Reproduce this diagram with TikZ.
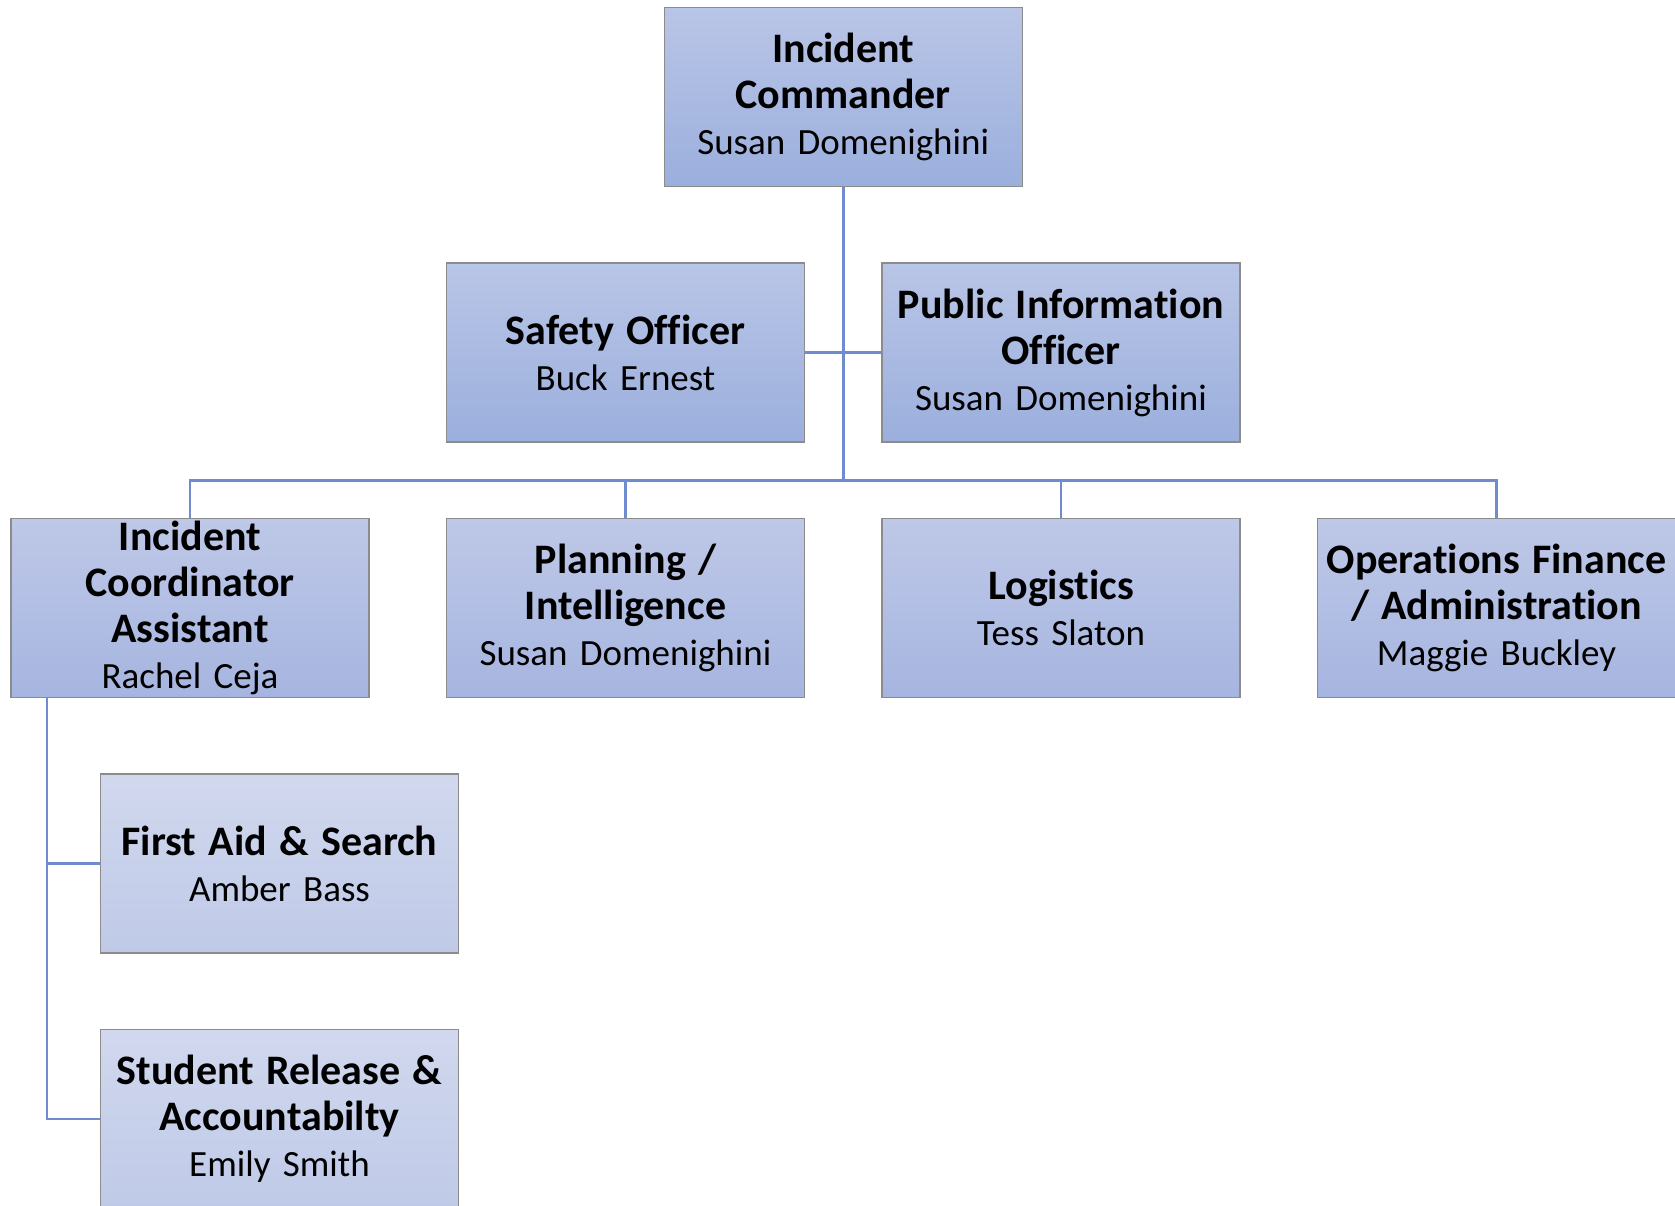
\documentclass[tikz,border=0pt]{standalone}
\usepackage{fontspec}
\setmainfont{Carlito}[Ligatures=CommonOff]

\definecolor{linkblue}{RGB}{112,139,208}
\definecolor{boxedge}{RGB}{140,140,140}
\newcommand{\entry}[2]{{\fontsize{42}{46}\selectfont\bfseries #1}\\#2}

\begin{document}
\begin{tikzpicture}[x=1pt,y=-1pt,
    box/.style={draw=boxedge,line width=1.5pt,rectangle,
      minimum width=358pt,minimum height=179pt,text width=350pt,
      align=center,inner sep=0pt,font=\fontsize{37}{46}\selectfont},
    lead/.style={box,top color={rgb,255:red,185;green,197;blue,230},bottom color={rgb,255:red,155;green,175;blue,221}},
    staff/.style={box,top color={rgb,255:red,190;green,200;blue,231},bottom color={rgb,255:red,166;green,181;blue,224}},
    crew/.style={box,top color={rgb,255:red,209;green,216;blue,238},bottom color={rgb,255:red,191;green,202;blue,232}},
    link/.style={draw=linkblue,line width=2.5pt}]
      \pgfmathsetmacro{\h}{255.5}
      \pgfmathsetmacro{\w}{435.5}
      \pgfmathsetmacro{\x}{190}
      \pgfmathsetmacro{\y}{97}

      \useasboundingbox (0,0) rectangle (1675,1206);

      \coordinate (hub) at (\x + \w * 1.5,\y + \h * 1.5);

      \draw[link] (\x + \w * 1.5,\y) -- (hub);

      \node[lead] (ic) at (\x + \w * 1.5,\y) {\entry{Incident\\Commander}{Susan Domenighini}};
      \node[lead] (safety) at (\x + \w,\y + \h) {\entry{Safety Officer}{Buck Ernest}};
      \node[lead] (pio) at (\x + \w * 2,\y + \h) {\entry{Public Information\\Officer}{Susan Domenighini}};

      \node[staff] (ica) at (\x,\y + \h * 2) {\entry{Incident\\Coordinator\\Assistant}{Rachel Ceja}};
      \node[staff] (plan) at (\x + \w,\y + \h * 2) {\entry{Planning /\\Intelligence}{Susan Domenighini}};
      \node[staff] (logi) at (\x + \w * 2,\y + \h * 2) {\entry{Logistics}{Tess Slaton}};
      \node[staff] (ops) at (\x + \w * 3,\y + \h * 2) {\entry{Operations Finance\\/ Administration}{Maggie Buckley}};

      \node[crew] (aid) at (\x + 89.5,\y + \h * 3) {\entry{First Aid \& Search}{Amber Bass}};
      \node[crew] (stud) at (\x + 89.5,\y + \h * 4) {\entry{Student Release \&\\Accountabilty}{Emily Smith}};

      \coordinate (spine) at ([xshift=-143pt]ica.south);

      \draw[link] (safety.east) -- (pio.west);
      \draw[link] (ica.north) |- (hub) -| (ops.north);
      \draw[link] (hub) -| (plan.north);
      \draw[link] (hub) -| (logi.north);
      \draw[link] (spine) |- (aid.west);
      \draw[link] (spine) |- (stud.west);
    \end{tikzpicture}
\end{document}
